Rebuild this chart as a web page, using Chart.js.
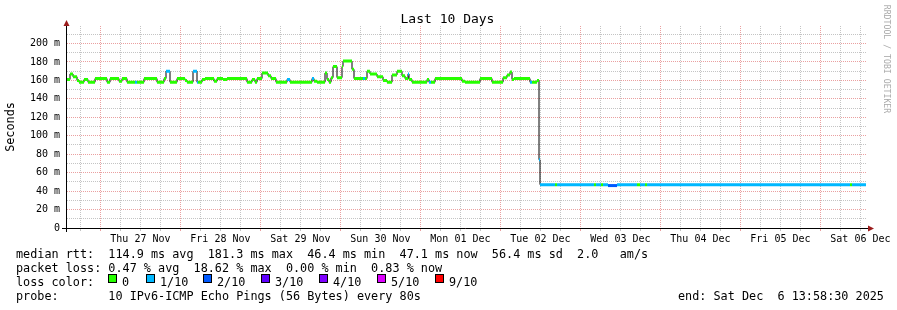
<!DOCTYPE html>
<html>
<head>
<meta charset="utf-8">
<script src="https://cdn.jsdelivr.net/npm/chart.js@4.4.1/dist/chart.umd.min.js"></script>
<style>
body{margin:0;background:#fff;}
#wrap{position:relative;width:897px;height:310px;overflow:hidden;font-family:'DejaVu Sans Mono',monospace;color:#000;}
#myChart{position:absolute;left:0;top:0;}
.t{position:absolute;white-space:pre;font-size:11.8px;line-height:14px;}
.box{position:absolute;width:7px;height:7px;border:1px solid #000;top:274px;}
#title{position:absolute;left:0;width:895px;top:11px;text-align:center;font-size:13px;line-height:16px;}
#ylab{position:absolute;left:-40px;top:120px;width:100px;text-align:center;font-size:11.8px;line-height:14px;transform:rotate(-90deg);}
#mark{position:absolute;left:827px;top:54px;width:120px;text-align:center;font-size:8.2px;line-height:10px;color:#aaa;transform:rotate(90deg);}
</style>
</head>
<body>
<div id="wrap">
<canvas id="myChart" width="897" height="310"></canvas>
<div id="title">Last 10 Days</div>
<div id="ylab">Seconds</div>
<div id="mark">RRDTOOL / TOBI OETIKER</div>
<div class="t" style="left:16px;top:247px">median rtt:  114.9 ms avg  181.3 ms max  46.4 ms min  47.1 ms now  56.4 ms sd  2.0   am/s</div>
<div class="t" style="left:16px;top:261px">packet loss: 0.47 % avg  18.62 % max  0.00 % min  0.83 % now</div>
<div class="t" style="left:16px;top:275px">loss color:</div>
<div id="losslegend"></div>
<div class="t" style="left:16px;top:289px">probe:       10 IPv6-ICMP Echo Pings (56 Bytes) every 80s</div>
<div class="t" style="left:678px;top:289px">end: Sat Dec  6 13:58:30 2025</div>
</div>
<script>
// plot covers 10 days ending Sat Dec 6 13:58:30, x values are hours since the start
// each entry is the start of a run where the median stays at one value
var runStart = [0, 0.9, 1.8, 3.0, 3.6, 5.1, 6.3, 8.4, 12.0, 12.9, 15.6, 16.5, 18.0, 20.4, 21.0, 23.1, 27.0, 29.1, 29.7, 30.9,
    33.0, 35.4, 36.0, 37.8, 39.0, 39.3, 40.5, 41.4, 44.1, 45.0, 46.8, 48.0, 54.0, 55.5, 56.4, 57.0, 58.5, 60.3, 61.2, 62.7,
    66.0, 66.9, 73.5, 74.1, 75.0, 77.4, 78.0, 78.6, 79.2, 79.8, 81.0, 82.5, 82.8, 85.5, 86.1, 88.8, 89.4, 90.0, 90.9, 93.0,
    94.8, 96.0, 97.5, 99.0, 100.5, 101.4, 102.3, 102.6, 103.5, 108.0, 108.6, 109.2, 110.4, 118.5, 119.4, 123.9, 127.5, 130.8, 132.0, 132.9,
    133.5, 134.1, 138.9, 139.5, 141.0, 141.6, 141.9, 146.4, 147.0, 158.1, 158.7, 160.2, 160.8, 162.3, 165.0, 171.0, 171.9, 173.4, 174.0, 234.9,
    235.5];
// median rtt in ms
var median = [161, 167, 164, 160, 158, 161, 158, 162, 158, 162, 159, 162, 158, 158, 158, 162, 158, 162, 170, 158,
    162, 160, 158, 170, 158, 158, 161, 162, 159, 162, 161, 162, 158, 161, 158, 162, 168, 165, 162, 158,
    161, 158, 162, 159, 158, 168, 161, 158, 163, 175, 163, 175, 181, 172, 162, 162, 162, 170, 167, 164,
    160, 158, 166, 170, 165, 162, 167, 161, 158, 161, 158, 158, 162, 159, 158, 162, 158, 163, 166, 169,
    161, 162, 158, 158, 160, 74, 47, 47, 47, 47, 47, 47, 47, 46, 47, 47, 47, 47, 47, 47,
    47];
// lost pings out of 10
var loss = [0, 0, 0, 0, 0, 0, 0, 0, 0, 0, 0, 0, 0, 1, 0, 0, 0, 0, 1, 0,
    0, 0, 0, 1, 1, 0, 0, 0, 0, 0, 0, 0, 0, 0, 0, 0, 0, 0, 0, 0,
    1, 0, 1, 0, 0, 0, 0, 0, 0, 0, 0, 0, 0, 0, 0, 1, 0, 0, 0, 0,
    0, 0, 0, 0, 0, 0, 1, 0, 0, 0, 1, 0, 0, 0, 0, 0, 0, 0, 0, 0,
    0, 0, 1, 0, 0, 1, 1, 0, 1, 0, 1, 0, 1, 2, 1, 0, 1, 0, 1, 0,
    1];
var endHour = 239.7;

var lossLevels = ['0', '1/10', '2/10', '3/10', '4/10', '5/10', '9/10'];
var lossColors = ['#26ff00', '#00b8ff', '#0059ff', '#5e00ff', '#7e00ff', '#dd00ff', '#ff0000'];
var lossBoxX = [108, 146, 203, 261, 319, 377, 435];

var dayLabels = ['Thu 27 Nov', 'Fri 28 Nov', 'Sat 29 Nov', 'Sun 30 Nov', 'Mon 01 Dec',
    'Tue 02 Dec', 'Wed 03 Dec', 'Thu 04 Dec', 'Fri 05 Dec', 'Sat 06 Dec'];
var firstMidnight = 10.025; // Thu 27 Nov 00:00 in hours since start
var yTicks = [0, 10, 20, 30, 40, 50, 60, 70, 80, 90, 100, 110, 120, 130, 140, 150, 160, 170, 180, 190, 200, 210];

var gridMinor = '#c4c4c4';
var gridMajor = '#eaa0a0';

// loss color legend
var lossLegend = document.getElementById('losslegend');
for (var i = 0; i < lossLevels.length; i++) {
    let box = document.createElement('div');
    box.className = 'box';
    box.style.left = lossBoxX[i] + 'px';
    box.style.background = lossColors[i];
    lossLegend.appendChild(box);
    let txt = document.createElement('div');
    txt.className = 't';
    txt.style.left = (lossBoxX[i] + 14) + 'px';
    txt.style.top = '275px';
    txt.textContent = lossLevels[i];
    lossLegend.appendChild(txt);
}

//black step line under everything, each run holds its value until the next run start
var stepData = [];
for (var i = 0; i < runStart.length; i++) {
    stepData.push({x: runStart[i], y: median[i]});
}
stepData.push({x: endHour, y: median[median.length - 1]});

//one colored dataset per loss level, only the flat parts of each run
var datasets = [];
for (var L = 0; L < lossColors.length; L++) {
    let data = [];
    for (var i = 0; i < runStart.length; i++) {
        if (loss[i] !== L) continue;
        let end = i + 1 < runStart.length ? runStart[i + 1] : endHour;
        data.push({x: runStart[i], y: median[i]});
        data.push({x: end, y: median[i]});
        data.push({x: end, y: null});
    }
    if (data.length) {
        datasets.push({data: data, borderColor: lossColors[L], borderWidth: 3,
            borderCapStyle: 'butt', pointRadius: 0, spanGaps: false, order: 1});
    }
}
// 'before' keeps the previous y until the next x, then goes vertical
datasets.push({data: stepData, borderColor: '#000', borderWidth: 1, stepped: 'before', pointRadius: 0, order: 2});

function isMidnight(v) {
    let r = ((v - firstMidnight) % 24 + 24) % 24;
    return r < 0.01 || r > 23.99;
}

// axis lines with the little arrows
var axisPlugin = {
    id: 'axes',
    afterDatasetsDraw(chart) {
        let c = chart.ctx, a = chart.chartArea;
        c.save();
        c.strokeStyle = '#000';
        c.lineWidth = 1;
        c.beginPath();
        c.moveTo(62, a.bottom + 0.5);
        c.lineTo(869, a.bottom + 0.5);
        c.moveTo(a.left - 0.5, a.bottom + 4);
        c.lineTo(a.left - 0.5, 24);
        c.stroke();
        c.fillStyle = '#9b1c1c';
        c.beginPath();
        c.moveTo(868, a.bottom - 2.5);
        c.lineTo(874, a.bottom + 0.5);
        c.lineTo(868, a.bottom + 3.5);
        c.fill();
        c.beginPath();
        c.moveTo(a.left - 3.5, 26);
        c.lineTo(a.left - 0.5, 20);
        c.lineTo(a.left + 2.5, 26);
        c.fill();
        c.restore();
    }
};

var ctx = document.getElementById('myChart');
var smokeChart = new Chart(ctx, {
    type: 'line',
    data: {datasets: datasets},
    options: {
        responsive: false,
        animation: false,
        devicePixelRatio: 1,
        layout: {padding: {left: 0, right: 31, top: 26, bottom: 0}},
        plugins: {legend: {display: false}, tooltip: {enabled: false}, title: {display: false}},
        scales: {
            x: {
                type: 'linear',
                min: 0,
                max: endHour,
                afterFit: function (scale) { scale.height = 82; },
                afterBuildTicks: function (scale) {
                    let t = [];
                    for (var v = firstMidnight - 6; v < endHour; v += 6) t.push({value: v});
                    scale.ticks = t;
                },
                ticks: {
                    autoSkip: false,
                    maxRotation: 0,
                    padding: 2,
                    color: '#000',
                    font: {family: 'DejaVu Sans Mono', size: 10},
                    callback: function (v) {
                        let d = (v - firstMidnight - 12) / 24;
                        if (Math.abs(d - Math.round(d)) < 0.001) return dayLabels[Math.round(d)] || '';
                        return '';
                    }
                },
                grid: {
                    color: function (c) { return isMidnight(c.tick.value) ? gridMajor : gridMinor; },
                    tickColor: function (c) { return isMidnight(c.tick.value) ? gridMajor : gridMinor; },
                    tickLength: 3,
                    lineWidth: 1
                },
                border: {display: false, dash: [1, 1]}
            },
            y: {
                min: 0,
                max: 219,
                afterFit: function (scale) { scale.width = 67; },
                afterBuildTicks: function (scale) {
                    scale.ticks = yTicks.map(function (v) { return {value: v}; });
                },
                ticks: {
                    autoSkip: false,
                    padding: 7,
                    color: '#000',
                    font: {family: 'DejaVu Sans Mono', size: 10},
                    callback: function (v) {
                        if (v === 0) return '0';
                        return v % 20 === 0 ? v + ' m' : '';
                    }
                },
                grid: {
                    color: function (c) { return c.tick.value % 20 === 0 ? gridMajor : gridMinor; },
                    drawTicks: false,
                    lineWidth: 1
                },
                border: {display: false, dash: [1, 1]}
            }
        }
    },
    plugins: [axisPlugin]
});
</script>
</body>
</html>
